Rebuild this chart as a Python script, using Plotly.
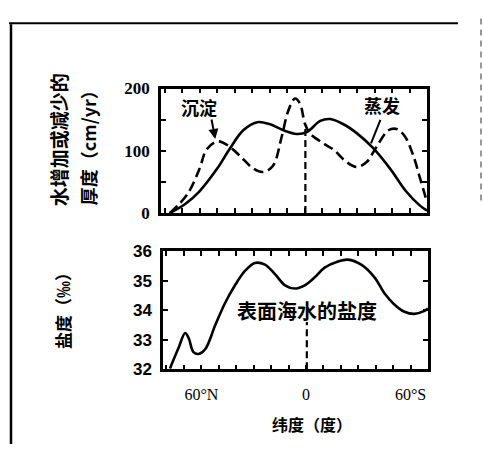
import plotly.graph_objects as go

W, H = 483, 454

# ---- data (latitude: negative = N, positive = S) ----
evap_lat = [-77, -68, -60, -50, -43, -35, -27, -20, -12, -4.5, 1.3, 9, 14.6, 22, 30, 39, 49, 58, 66, 70]
evap_val = [0, 15, 35, 71, 102, 133, 146, 143, 133, 127, 130, 148, 151, 143, 128, 105, 71, 35, 12, 4]

prec_lat = [-77, -67, -60, -56, -50, -44.5, -37, -29, -23.5, -18, -13, -9.3, -5.4, -2.6, 0.3, 3.1, 10.7, 16.5, 24, 30, 35.5, 41.3, 48, 52.7, 57.4, 62.2, 66, 70]
prec_val = [0, 30, 71, 102, 115, 110, 92, 71, 66, 76, 123, 164, 184, 176, 143, 128, 112, 102, 82, 74, 82, 107, 133, 135, 123, 92, 56, 18]

sal_lat = [-78, -73, -69.3, -67.3, -64.5, -61.6, -57.8, -52, -46.4, -40.7, -35, -29.3, -23.5, -17.8, -12, -6.4, -0.7, 5, 10.7, 18.4, 24, 31.7, 39.3, 45, 50.7, 56.5, 62.2, 68, 70]
sal_val = [32.03, 32.74, 33.23, 33.06, 32.58, 32.52, 32.68, 33.5, 34.25, 34.85, 35.34, 35.61, 35.55, 35.23, 34.85, 34.74, 34.85, 35.12, 35.45, 35.66, 35.72, 35.55, 35.12, 34.58, 34.2, 33.95, 33.88, 33.98, 34.06]

x_ticks = list(range(-80, 71, 10))
x_labels = {-60: "60°N", 0: "0", 60: "60°S"}
top_y_ticks = [0, 50, 100, 150, 200]
top_y_labels = ["0", "", "100", "", "200"]
sal_ticks = [32, 33, 34, 35, 36]
sal_labels = ["32", "33", "34", "35", "36"]

def px(x):
    return x / W

def py(y):
    return 1 - y / H

CJK = "Noto Sans CJK SC"
SERIF = "Liberation Serif"
SANS = "Liberation Sans"

fig = go.Figure()
fig.add_trace(go.Scatter(x=evap_lat, y=evap_val, mode="lines", line=dict(color="black", width=2.6, shape="spline", smoothing=1.0),
                         xaxis="x", yaxis="y", showlegend=False, hoverinfo="skip"))
fig.add_trace(go.Scatter(x=prec_lat, y=prec_val, mode="lines", line=dict(color="black", width=2.6, dash="10px,5px", shape="spline", smoothing=1.0),
                         xaxis="x", yaxis="y", showlegend=False, hoverinfo="skip"))
fig.add_trace(go.Scatter(x=sal_lat, y=sal_val, mode="lines", line=dict(color="black", width=2.6, shape="spline", smoothing=1.0),
                         xaxis="x2", yaxis="y2", showlegend=False, hoverinfo="skip"))

axis_common = dict(showline=True, linecolor="black", linewidth=2.5, mirror="allticks", ticks="inside",
                   ticklen=5, tickwidth=2, tickcolor="black", showgrid=False, zeroline=False)

fig.update_layout(
    width=W, height=H,
    margin=dict(l=0, r=0, t=0, b=0),
    paper_bgcolor="white", plot_bgcolor="white",
    xaxis=dict(domain=[px(161), px(427)], range=[-82, 70], anchor="y", tickvals=x_ticks,
               ticktext=[""] * len(x_ticks), **axis_common),
    yaxis=dict(domain=[py(213), py(83)], range=[0, 200], anchor="x", tickvals=top_y_ticks, ticktext=top_y_labels,
               tickfont=dict(family=SERIF, size=17, color="black", weight="bold"), ticklabelstandoff=5, **axis_common),
    xaxis2=dict(domain=[px(163), px(428)], range=[-82, 70], anchor="y2", tickvals=x_ticks,
                ticktext=[x_labels.get(t, "") for t in x_ticks],
                tickfont=dict(family=SERIF, size=16, color="black"), ticklabelstandoff=9, **axis_common),
    yaxis2=dict(domain=[py(376), py(253)], range=[32, 36], anchor="x2", tickvals=sal_ticks, ticktext=sal_labels,
                tickfont=dict(family=SANS, size=17, color="black", weight="bold"), ticklabelstandoff=5, **axis_common),
)

# equator dashed lines
fig.add_shape(type="line", xref="x", yref="y", x0=0.5, x1=0.5, y0=0, y1=135,
              line=dict(color="black", width=2.2, dash="7px,4px"))
fig.add_shape(type="line", xref="x2", yref="y2", x0=0.5, x1=0.5, y0=32, y1=33.6,
              line=dict(color="black", width=2.2, dash="7px,4px"))

# outer frame of the scan
fig.add_shape(type="line", xref="paper", yref="paper", x0=px(11), x1=px(11), y0=py(16), y1=py(454),
              line=dict(color="black", width=2.5))
fig.add_shape(type="line", xref="paper", yref="paper", x0=px(9), x1=px(458), y0=py(15), y1=py(15),
              line=dict(color="black", width=2))
fig.add_shape(type="line", xref="paper", yref="paper", x0=px(481), x1=px(481), y0=py(10), y1=py(200),
              line=dict(color="#777", width=1.5, dash="6px,5px"))

def note(text, x, y, size, angle=0):
    return dict(text=text, x=px(x), y=py(y), xref="paper", yref="paper", showarrow=False,
                xanchor="center", yanchor="middle", textangle=angle,
                font=dict(family=CJK, size=size, color="black"))

ann = [
    note("<b>沉淀</b>", 199, 102, 18),
    note("<b>蒸发</b>", 382, 100, 18),
    dict(text="", x=-51, y=119, xref="x", yref="y", showarrow=True, ax=-4, ay=-21,
         arrowhead=2, arrowsize=1, arrowwidth=2, arrowcolor="black"),
    dict(text="", x=38, y=112, xref="x", yref="y", showarrow=True, ax=10, ay=-25,
         arrowhead=0, arrowwidth=2, arrowcolor="black"),
    note("<b>表面海水的盐度</b>", 307, 315, 20),
    note("<b>水增加或减少的</b>", 58, 137, 19, -90),
    note("<b>厚度（cm/yr）</b>", 88, 140, 18, -90),
    note("<b>盐度（‰）</b>", 63, 311, 17, -90),
    note("<b>纬度（度）</b>", 312, 433, 16),
]
fig.update_layout(annotations=ann)

post = ("document.body.style.margin='0';document.body.style.padding='0';"
        "var d=document.getElementById('{plot_id}');d.style.position='absolute';"
        "d.style.left='0px';d.style.top='0px';")
fig.write_html("out.html", post_script=post, config={"displayModeBar": False})
